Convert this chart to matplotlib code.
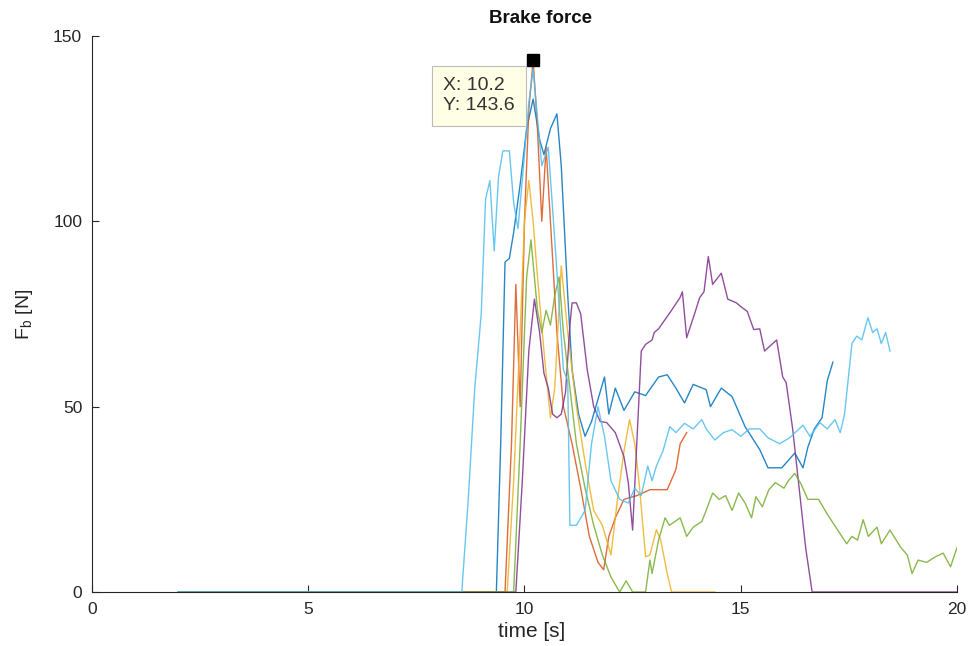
import matplotlib
matplotlib.use("Agg")
import matplotlib.pyplot as plt

plt.rcParams['font.family'] = ['Liberation Sans', 'DejaVu Sans']

# ---- data ----
t_lightblue = [2.0, 8.55, 8.7, 8.85, 9.0, 9.1, 9.2, 9.3, 9.4, 9.5, 9.65, 9.75, 9.85, 10.0, 10.1, 10.2,
               10.3, 10.4, 10.55, 10.7, 10.9, 11.0, 11.05, 11.2, 11.3, 11.4, 11.55, 11.7, 11.85, 12.0,
               12.2, 12.4, 12.55, 12.7, 12.85, 12.95, 13.05, 13.2, 13.36, 13.5, 13.7, 13.9, 14.1, 14.2,
               14.4, 14.6, 14.8, 15.0, 15.2, 15.44, 15.63, 15.9, 16.13, 16.44, 16.6, 16.83, 17.0, 17.18,
               17.3, 17.4, 17.57, 17.68, 17.8, 17.94, 18.05, 18.15, 18.25, 18.35, 18.45]
f_lightblue = [0, 0, 25, 55, 75, 106, 111, 92, 112, 119, 119, 105, 98, 118, 132, 141,
               128, 115, 120, 95, 60, 57, 18, 18, 20, 22, 40, 50, 42, 30,
               25, 24, 28, 26, 34, 30, 34, 38, 44.6, 43, 45.5, 44, 46.5, 44,
               41, 43, 43.8, 42, 44, 44, 41.6, 40, 41.6, 45, 42, 45.7, 44, 46.5,
               43, 48, 67, 69, 68, 74, 70, 71, 67, 70, 65]

t_blue = [2.0, 9.35, 9.45, 9.55, 9.65, 9.75, 9.9, 10.05, 10.2, 10.35, 10.45, 10.6, 10.75, 10.85,
          11.0, 11.1, 11.25, 11.4, 11.55, 11.7, 11.85, 11.95, 12.1, 12.3, 12.55, 12.8, 13.1, 13.3,
          13.5, 13.7, 13.9, 14.2, 14.3, 14.55, 14.8, 15.1, 15.44, 15.63, 15.95, 16.25, 16.44, 16.55,
          16.7, 16.88, 17.0, 17.13]
f_blue = [0, 0, 40, 89, 90, 97, 110, 125, 133, 122, 118, 125, 129, 115,
          80, 60, 48, 42, 46, 52, 58, 48, 55, 49, 54, 53, 58, 58.6,
          55, 51, 56, 54.6, 50, 55, 52.7, 44.6, 38.4, 33.5, 33.5, 37.5, 33.5, 39,
          44, 47, 57, 62]

t_orange = [2.0, 9.55, 9.7, 9.8, 9.9, 10.0, 10.1, 10.2, 10.3, 10.4, 10.5, 10.6, 10.75, 10.9, 11.1,
            11.3, 11.5, 11.7, 11.83, 11.95, 12.1, 12.3, 12.6, 12.9, 13.3, 13.5, 13.6, 13.75]
f_orange = [0, 0, 40, 83, 50, 100, 130, 143.6, 125, 100, 120, 100, 70, 50, 40,
            28, 15, 8, 6, 15, 20, 25, 26, 27.6, 27.6, 33, 40, 43]

t_yellow = [2.0, 9.6, 9.75, 9.9, 10.0, 10.1, 10.2, 10.3, 10.45, 10.6, 10.7, 10.85, 11.0, 11.2, 11.4,
            11.6, 11.8, 12.0, 12.15, 12.3, 12.43, 12.55, 12.65, 12.8, 12.9, 13.05, 13.15, 13.3,
            13.4, 14.4]
f_yellow = [0, 0, 30, 70, 100, 111, 100, 85, 65, 47, 55, 88, 70, 50, 35,
            22, 18, 10, 25, 38, 46.5, 40, 29.5, 9.5, 10, 16.8, 14, 5,
            0, 0]

t_purple = [2.0, 9.8, 9.95, 10.1, 10.23, 10.35, 10.45, 10.55, 10.65, 10.75, 10.85, 10.95, 11.05,
            11.1, 11.2, 11.3, 11.45, 11.6, 11.75, 11.9, 12.1, 12.3, 12.4, 12.5, 12.6, 12.7, 12.8,
            12.95, 13.0, 13.1, 13.25, 13.4, 13.6, 13.65, 13.75, 13.95, 14.05, 14.15, 14.25, 14.35,
            14.55, 14.7, 14.9, 15.0, 15.15, 15.3, 15.44, 15.55, 15.83, 15.97, 16.05, 16.2, 16.35,
            16.5, 16.65, 20.0]
f_purple = [0, 0, 30, 65, 79, 70, 59, 55, 48, 47, 48, 54, 72,
            78, 78, 75, 60, 50, 46, 45.7, 43, 36.5, 29.5, 16.7, 41, 65, 66.8,
            68, 70, 71, 73.5, 76, 79.5, 81, 68.6, 75.7, 79.4, 81, 90.5, 83,
            86, 79, 78, 77, 75.7, 70.8, 71, 65, 68, 58, 56.5, 44, 28,
            12, 0, 0]

t_green = [2.0, 9.75, 9.9, 10.05, 10.15, 10.3, 10.4, 10.5, 10.6, 10.7, 10.8, 10.9, 11.05, 11.2,
           11.4, 11.6, 11.8, 12.0, 12.2, 12.35, 12.5, 12.8, 12.9, 12.95, 13.1, 13.25, 13.35, 13.6,
           13.75, 13.9, 14.1, 14.2, 14.35, 14.5, 14.65, 14.8, 14.95, 15.1, 15.25, 15.35, 15.5,
           15.65, 15.8, 16.0, 16.1, 16.25, 16.4, 16.55, 16.8, 17.0, 17.45, 17.57, 17.7, 17.83,
           17.95, 18.15, 18.25, 18.45, 18.7, 18.85, 18.96, 19.1, 19.3, 19.5, 19.68, 19.85, 20.0]
f_green = [0, 0, 40, 85, 95, 76, 70, 76, 72, 80, 85, 70, 55, 40,
           28, 18, 10, 4, 0, 3, 0, 0, 8.6, 5, 14, 20, 18, 20,
           15, 17.5, 19, 22, 26.7, 25, 26, 22, 26.7, 24, 20, 25.7, 23,
           27.6, 29.5, 28, 30, 32, 29, 25, 25, 21, 13, 15, 14, 19.5,
           15, 17.5, 13, 16.7, 12, 10, 5, 8.6, 8, 9.5, 10.5, 6.8, 12]

series = [
    (t_blue, f_blue, "#0072BD"),
    (t_orange, f_orange, "#D95319"),
    (t_yellow, f_yellow, "#EDB120"),
    (t_purple, f_purple, "#7E2F8E"),
    (t_green, f_green, "#77AC30"),
    (t_lightblue, f_lightblue, "#4DBEEE"),
]

x_ticks = [0, 5, 10, 15, 20]
y_ticks = [0, 50, 100, 150]
tip_x, tip_y = 10.2, 143.6

# ---- figure ----
axcol = "#262626"
fig = plt.figure(figsize=(9.71, 6.46), dpi=100)
ax = fig.add_axes([0.0947, 0.0836, 0.8909, 0.8607])

for t, f, c in series:
    ax.plot(t, f, color=c, lw=1.0, alpha=0.85)

ax.plot([tip_x], [tip_y], marker="s", color="black", ms=8, ls="none")
ax.annotate("X: 10.2\nY: 143.6", xy=(tip_x, tip_y), xytext=(-65, -12.5),
            textcoords="offset points", fontsize=14, color="#333333",
            va="top", ha="left", linespacing=1.25,
            bbox=dict(boxstyle="square,pad=0.58", fc="#FFFFE6", ec="#BBBBBB", lw=0.8))

ax.set_xlim(0, 20)
ax.set_ylim(0, 150)
ax.set_xticks(x_ticks)
ax.set_yticks(y_ticks)
ax.tick_params(direction="in", length=5, width=0.8, colors=axcol, labelsize=12.5,
               pad=7)
for s in ["top", "right"]:
    ax.spines[s].set_visible(False)
for s in ["left", "bottom"]:
    ax.spines[s].set_color(axcol)
    ax.spines[s].set_linewidth(0.8)

ax.set_title("Brake force", fontsize=13.5, fontweight="bold", color="#111111", pad=9, x=0.518)
ax.set_xlabel("time [s]", fontsize=15, color=axcol, labelpad=4, x=0.508)
ax.set_ylabel(r"F$_{\mathregular{b}}$ [N]", fontsize=14, color=axcol, labelpad=13)

fig.savefig("out.png", dpi=100)
